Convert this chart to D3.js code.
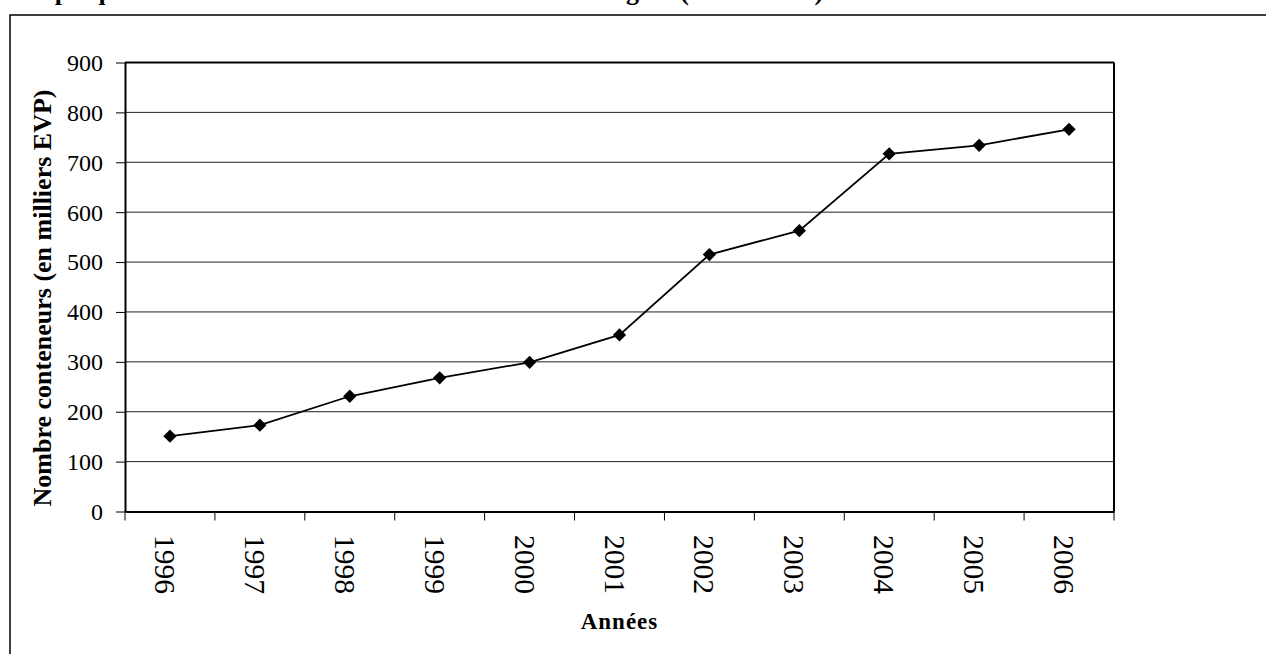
<!DOCTYPE html>
<html>
<head>
<meta charset="utf-8">
<script src="https://cdn.jsdelivr.net/npm/d3@7"></script>
<style>
  html, body { margin: 0; padding: 0; background: #fff; }
  svg { display: block; }
</style>
</head>
<body>
<svg id="chart" width="1266" height="654"></svg>
<script>
// ---- Data ----
const years = ["1996", "1997", "1998", "1999", "2000", "2001", "2002", "2003", "2004", "2005", "2006"];
const containers = [151, 173, 231, 268, 299, 354, 515, 563, 717, 734, 766];
const yTickValues = [0, 100, 200, 300, 400, 500, 600, 700, 800, 900];
const titleText = "Graphique 1 : Evolution du trafic conteneurs dans la région (1996 - 2006)";
const yTitle = "Nombre conteneurs (en milliers EVP)";
const xTitle = "Années";

// ---- Layout ----
const W = 1266, H = 654;
const plot = { left: 125, right: 1114, top: 62.5, bottom: 511.5 };
const SERIF = "'Liberation Serif', 'Times New Roman', Times, serif";

const svg = d3.select("#chart");

// Partially visible title (cut at top of the page, as in the reference)
svg.append("text")
  .attr("x", 10)
  .attr("y", 0)
  .style("font-family", SERIF)
  .style("font-size", "26px")
  .style("font-weight", "bold")
  .attr("fill", "#000")
  .text(titleText);

// Outer chart frame
svg.append("rect")
  .attr("x", 10).attr("y", 15)
  .attr("width", W + 20).attr("height", H + 20)
  .attr("fill", "none")
  .attr("stroke", "#000")
  .attr("stroke-width", 1.5);

// Scales
const x = d3.scaleBand().domain(years).range([plot.left, plot.right]).padding(0);
const y = d3.scaleLinear().domain([0, 900]).range([plot.bottom, plot.top]);

// Gridlines
svg.append("g")
  .selectAll("line")
  .data(yTickValues.filter(v => v > 0 && v < 900))
  .join("line")
  .attr("x1", plot.left).attr("x2", plot.right)
  .attr("y1", d => y(d)).attr("y2", d => y(d))
  .attr("stroke", "#222")
  .attr("stroke-width", 1);

// Plot frame top and right
svg.append("line")
  .attr("x1", plot.left).attr("x2", plot.right)
  .attr("y1", y(900)).attr("y2", y(900))
  .attr("stroke", "#000").attr("stroke-width", 2);
svg.append("line")
  .attr("x1", plot.right).attr("x2", plot.right)
  .attr("y1", y(900)).attr("y2", y(0))
  .attr("stroke", "#000").attr("stroke-width", 2);

// Y axis
const yAxis = svg.append("g")
  .attr("transform", `translate(${plot.left},0)`)
  .call(d3.axisLeft(y).tickValues(yTickValues).tickSize(9).tickSizeOuter(0).tickPadding(13));
yAxis.attr("font-family", null).attr("font-size", null);
yAxis.select(".domain").attr("stroke", "#000").attr("stroke-width", 2);
yAxis.selectAll(".tick line").attr("stroke", "#000").attr("stroke-width", 1);
yAxis.selectAll(".tick text")
  .style("font-family", SERIF)
  .style("font-size", "24px")
  .attr("dy", "0.33em")
  .attr("fill", "#000");

// X axis (line + boundary ticks)
const xAxis = svg.append("g")
  .attr("transform", `translate(0,${plot.bottom})`)
  .call(d3.axisBottom(x).tickSize(0).tickSizeOuter(0).tickFormat(""));
xAxis.select(".domain").attr("stroke", "#000").attr("stroke-width", 2);

const boundaries = years.map(d => x(d)).concat([x(years[years.length - 1]) + x.bandwidth()]);
svg.append("g")
  .selectAll("line")
  .data(boundaries)
  .join("line")
  .attr("x1", d => d).attr("x2", d => d)
  .attr("y1", plot.bottom).attr("y2", plot.bottom + 9)
  .attr("stroke", "#000").attr("stroke-width", 1);

// Rotated year labels
svg.append("g")
  .selectAll("text")
  .data(years)
  .join("text")
  .attr("transform", d => `translate(${x(d) + x.bandwidth() / 2},535) rotate(90)`)
  .attr("x", 0)
  .attr("y", 15)
  .style("font-family", SERIF)
  .style("font-size", "29.5px")
  .attr("fill", "#000")
  .attr("text-anchor", "start")
  .text(d => d);

// Axis titles
svg.append("text")
  .attr("transform", `translate(51,298) rotate(-90)`)
  .attr("text-anchor", "middle")
  .style("font-family", SERIF)
  .style("font-size", "26px")
  .style("font-weight", "bold")
  .attr("fill", "#000")
  .text(yTitle);

svg.append("text")
  .attr("x", (plot.left + plot.right) / 2)
  .attr("y", 629)
  .attr("text-anchor", "middle")
  .style("font-family", SERIF)
  .style("font-size", "23px")
  .style("font-weight", "bold")
  .style("letter-spacing", "1px")
  .attr("fill", "#000")
  .text(xTitle);

// Line
const line = d3.line()
  .x((d, i) => x(years[i]) + x.bandwidth() / 2)
  .y(d => y(d));

svg.append("path")
  .datum(containers)
  .attr("d", line)
  .attr("fill", "none")
  .attr("stroke", "#000")
  .attr("stroke-width", 1.8);

// Diamond markers
const diamond = d3.symbol().type(d3.symbolSquare).size(88);
svg.append("g")
  .selectAll("path")
  .data(containers)
  .join("path")
  .attr("transform", (d, i) => `translate(${x(years[i]) + x.bandwidth() / 2},${y(d)}) rotate(45)`)
  .attr("d", diamond)
  .attr("fill", "#000");
</script>
</body>
</html>
